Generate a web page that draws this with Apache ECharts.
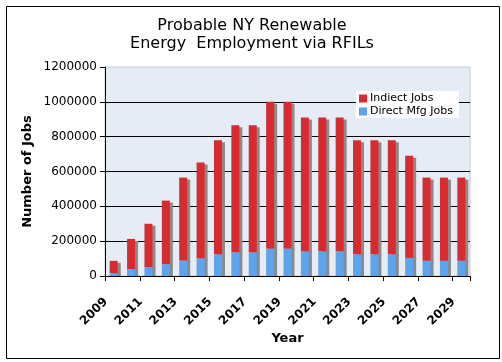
<!DOCTYPE html>
<html>
<head>
<meta charset="utf-8">
<script src="https://cdn.jsdelivr.net/npm/echarts@6/dist/echarts.min.js"></script>
<style>
html,body{margin:0;padding:0;background:#fff;}
#chart{width:502px;height:362px;}
</style>
</head>
<body>
<div id="chart"></div>
<script>
var years = ['2009','2010','2011','2012','2013','2014','2015','2016','2017','2018','2019','2020','2021','2022','2023','2024','2025','2026','2027','2028','2029'];
var directMfgJobs = [15000,38000,50000,67000,88000,100000,123000,135000,135000,156000,156000,140000,140000,140000,123000,123000,123000,104000,87000,87000,87000];
var indirectJobs = [72000,175000,250000,366000,477000,552000,656000,730000,730000,844000,844000,770000,770000,770000,656000,656000,656000,586000,478000,478000,478000];
var yTicks = {min:0, max:1200000, interval:200000};

var FONT = 'DejaVu Sans';
var chart = echarts.init(document.getElementById('chart'), null, {renderer:'canvas'});
chart.setOption({
  backgroundColor:'#fff',
  animation:false,
  textStyle:{fontFamily:FONT},
  title:{
    text:'Probable NY Renewable\nEnergy  Employment via RFILs',
    left:247, top:12, textAlign:'center',
    textStyle:{fontFamily:FONT, fontSize:16, fontWeight:'normal', color:'#000', lineHeight:18}
  },
  graphic:[{
    type:'rect', left:4, top:4, shape:{width:493, height:352},
    style:{fill:null, stroke:'#000', lineWidth:1}, silent:true
  }],
  legend:{
    orient:'vertical', left:356, top:91,
    backgroundColor:'#fff',
    padding:[2,6,1,3], itemGap:2,
    itemWidth:8, itemHeight:8, icon:'rect',
    data:['Indiect Jobs','Direct Mfg Jobs'],
    textStyle:{fontFamily:FONT, fontSize:11, color:'#000', padding:[0,0,0,-2]}
  },
  grid:{
    left:105, right:32, top:67, bottom:86,
    show:true, backgroundColor:'#E6ECF6', borderColor:'#c4c8d0', borderWidth:1
  },
  xAxis:{
    type:'category', data:years,
    name:'Year', nameLocation:'middle', nameGap:56, nameMoveOverlap:false,
    nameTextStyle:{fontFamily:FONT, fontSize:13, fontWeight:'bold', color:'#000'},
    axisLine:{lineStyle:{color:'#000', width:1}},
    axisTick:{show:true, length:5, lineStyle:{color:'#000'}},
    axisLabel:{interval:1, rotate:45, margin:16, padding:[0,11,0,0], fontFamily:FONT, fontSize:12, fontWeight:'bold', color:'#000'}
  },
  yAxis:{
    type:'value', min:yTicks.min, max:yTicks.max, interval:yTicks.interval,
    name:'Number of Jobs', nameLocation:'middle', nameGap:71, nameRotate:90, nameMoveOverlap:false,
    nameTextStyle:{fontFamily:FONT, fontSize:13, fontWeight:'bold', color:'#000'},
    axisLine:{show:true, lineStyle:{color:'#000', width:1}},
    axisTick:{show:true, length:5, lineStyle:{color:'#000'}},
    axisLabel:{margin:8, fontFamily:FONT, fontSize:12, color:'#000', formatter:function(v){return String(v);}},
    splitLine:{show:true, showMinLine:false, showMaxLine:false, lineStyle:{color:'#000', width:1}}
  },
  series:[
    {
      name:'Direct Mfg Jobs', type:'bar', stack:'jobs', data:directMfgJobs,
      barWidth:8, z:3,
      itemStyle:{color:'#5CA4EE', shadowColor:'#8a8a8a', shadowBlur:0, shadowOffsetX:3, shadowOffsetY:0}
    },
    {
      name:'Indiect Jobs', type:'bar', stack:'jobs', data:indirectJobs,
      barWidth:8, z:2,
      itemStyle:{color:'#D92A30', shadowColor:'#8a8a8a', shadowBlur:0, shadowOffsetX:3, shadowOffsetY:2}
    }
  ]
});
</script>
</body>
</html>
